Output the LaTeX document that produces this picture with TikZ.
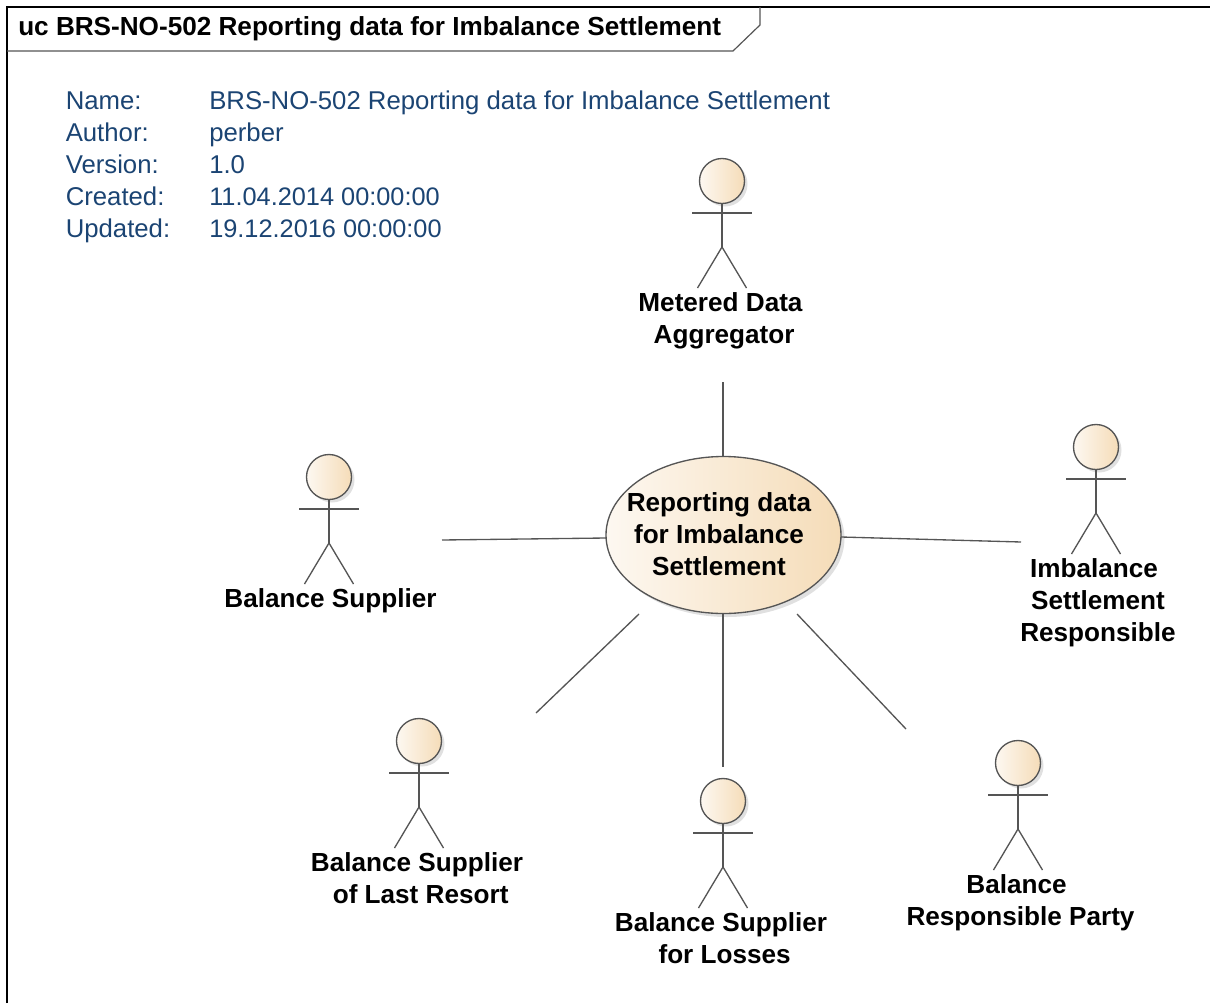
\documentclass[tikz,border=0pt]{standalone}
\usepackage{fontspec}
\usetikzlibrary{shapes.geometric}
\setmainfont{Liberation Sans}
\definecolor{metaCol}{HTML}{1B4473}
\definecolor{fillL}{HTML}{FDF8F1}
\definecolor{fillR}{HTML}{F5DCB8}
\definecolor{lineCol}{HTML}{555555}
\newcommand{\actorfig}[3]{%
  \fill[black!12] (#2+3,#3+3) circle[radius=22.5];
  \node[actorhead] (#1) at (#2,#3) {};
  \draw[limb] (#2,#3+22.5) -- (#2,#3+66) coordinate (#1hip);
  \draw[limb] (#2-30,#3+32) -- (#2+30,#3+32);
  \draw[limb] (#2-24.5,#3+107) -- (#1hip) -- (#2+24.5,#3+107);
}
\tikzset{
  actorhead/.style={circle,draw=lineCol,line width=1pt,minimum size=45*0.75pt,inner sep=0pt,shading=axis,left color=fillL,right color=fillR,shading angle=90},
  ucshape/.style={ellipse,draw=lineCol,line width=1pt,minimum width=235*0.75pt,minimum height=157*0.75pt,inner sep=0pt,shading=axis,left color=fillL,right color=fillR,shading angle=90},
  limb/.style={draw=lineCol,line width=1pt},
  assoc/.style={draw=lineCol,line width=1pt},
  lbl/.style={font=\fontsize{19.6pt}{24pt}\selectfont\bfseries,align=center,inner sep=0pt,text=black},
  meta/.style={font=\fontsize{19.3pt}{24pt}\selectfont,anchor=base west,inner sep=0pt,text=metaCol},
  metadate/.style={meta,font=\fontsize{19pt}{24pt}\selectfont},
}
\begin{document}
\begin{tikzpicture}[x=0.75pt,y=-0.75pt]
\useasboundingbox (0,0) rectangle (1210,1003);
% frame
\draw[draw=black,line width=1.3pt] (7,1003) -- (7,7) -- (1210,7);
\draw[draw=lineCol,line width=0.9pt] (760,7) -- (760,25) -- (733,51) -- (7,51);
\node[lbl,anchor=base west] (title) at (18,36) {uc BRS-NO-502 Reporting data for Imbalance Settlement};
% metadata
\node[meta] (n1) at (65.5,109.7) {Name:};
\node[meta] (n2) at (65.5,141.7) {Author:};
\node[meta] (n3) at (65.5,173.7) {Version:};
\node[meta] (n4) at (65.5,205.7) {Created:};
\node[meta] (n5) at (65.5,237.7) {Updated:};
\node[meta] (v1) at (209,109.7) {BRS-NO-502 Reporting data for Imbalance Settlement};
\node[meta] (v2) at (209,141.7) {perber};
\node[meta] (v3) at (209,173.7) {1.0};
\node[metadate] (v4) at (209,205.7) {11.04.2014 00:00:00};
\node[metadate] (v5) at (209,237.7) {19.12.2016 00:00:00};
% connector free ends
\coordinate (mdaEnd) at (723,382);
\coordinate (bsEnd) at (442,540);
\coordinate (isrEnd) at (1021,542);
\coordinate (lrEnd) at (536,713);
\coordinate (lossEnd) at (723,767);
\coordinate (brpEnd) at (906,729);
\coordinate (ucSW) at (639,614);
\coordinate (ucSE) at (797,614);
\coordinate (ucS) at (723,613);
\coordinate (ucW) at (606,538);
\coordinate (ucE) at (841,537);
\coordinate (ucN) at (723,457);
% use case shadow, connectors, use case
\fill[black!12] (727,538.5) ellipse[x radius=117.5,y radius=78.5];
\draw[assoc] (ucN) -- (mdaEnd);
\draw[assoc] (ucW) -- (bsEnd);
\draw[assoc] (ucE) -- (isrEnd);
\draw[assoc] (ucSW) -- (lrEnd);
\draw[assoc] (ucS) -- (lossEnd);
\draw[assoc] (ucSE) -- (brpEnd);
\node[ucshape] (uc) at (723.5,535) {};
\node[lbl] (uctext) at (719,534.3) {Reporting data\\for Imbalance\\Settlement};
% actors
\actorfig{mda}{722}{181}
\node[lbl] (mdaL) at (720.5,320.5) {Metered Data\\\ Aggregator};
\actorfig{bs}{329}{477}
\node[lbl] (bsL) at (330.5,600.5) {Balance Supplier};
\actorfig{isr}{1096}{447}
\node[lbl] (isrL) at (1098,602.5) {Imbalance\hspace*{6pt}\\Settlement\hspace*{6pt}\\Responsible};
\actorfig{lr}{419}{741}
\node[lbl] (lrL) at (417,878) {Balance Supplier\\\ of Last Resort};
\actorfig{loss}{723}{801}
\node[lbl] (lossL) at (721,938) {Balance Supplier\\\ for Losses};
\actorfig{brp}{1018}{763}
\node[lbl] (brpL) at (1020.5,902.5) {Balance\hspace*{6pt}\\Responsible Party};
\end{tikzpicture}
\end{document}
